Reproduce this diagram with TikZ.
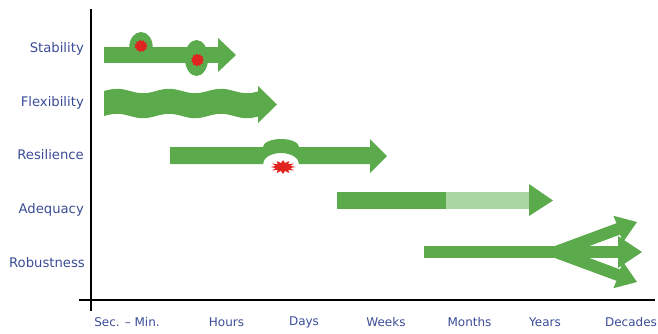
\documentclass[tikz,border=0pt]{standalone}
\usepackage{fontspec}
\setmainfont{DejaVu Sans}
\definecolor{grn}{HTML}{5BAA4B}
\definecolor{lgrn}{HTML}{A9D6A2}
\definecolor{txt}{HTML}{3A4C96}
\definecolor{splatred}{HTML}{E02420}
\newcommand\mysplat[6]{% cx cy rx ry samples spikeratio
  \fill[splatred] plot[domain=0:{360-360/#5},samples=#5]
    ({#1+#3*(1+#6*cos(#5*\x/2))*cos(\x)},{#2+#4*(1+#6*cos(#5*\x/2))*sin(\x)}) -- cycle;}
\begin{document}
\begin{tikzpicture}[x=1pt,y=-1pt,
  ylab/.style={anchor=east,text=txt,font=\fontsize{13.2}{15}\selectfont,inner sep=0pt},
  tick/.style={text=txt,font=\fontsize{12}{14}\selectfont,inner sep=0pt},
  axis/.style={line width=2.5pt,black}]
\useasboundingbox (0,0) rectangle (658,333);
% axes
\draw[axis] (91,9) -- (91,311);
\draw[axis] (79,300) -- (655,300);
% y labels
\node[ylab] (lstab) at (84,49) {Stability};
\node[ylab] (lflex) at (84,103) {Flexibility};
\node[ylab] (lres) at (84,155) {Resilience};
\node[ylab] (ladeq) at (84,210) {Adequacy};
\node[ylab] (lrob) at (85,263) {Robustness};
% x labels
\node[tick] (tsec) at (127,322) {Sec. – Min.};
\node[tick] (thours) at (226.5,322) {Hours};
\node[tick] (tdays) at (304,322) {Days};
\node[tick] (tweeks) at (386,322) {Weeks};
\node[tick] (tmonths) at (469.5,322) {Months};
\node[tick] (tyears) at (545,322) {Years};
\node[tick] (tdecades) at (631,322) {Decades};
% Stability
\fill[grn] (104,47) rectangle (219,63);
\fill[grn] (218,38) -- (236,55) -- (218,72) -- cycle;
\fill[grn] (141,47) ellipse[x radius=11.7pt,y radius=15pt];
\fill[grn] (196.5,58) ellipse[x radius=11.7pt,y radius=18pt];
\mysplat{141}{46}{6}{5.5}{22}{0.12}
\mysplat{197.5}{60}{5.8}{5.8}{22}{0.12}
% Flexibility
\fill[grn] plot[domain=0:154,samples=80] (104+\x,{91-2.2*sin(6.923*\x)})
  -- (258,86) -- (277,104.5) -- (258,123)
  -- plot[domain=154:0,samples=80] (104+\x,{116-2.2*sin(6.923*\x)}) -- cycle;
% Resilience
\fill[grn] (170,147) -- (263,147) arc[start angle=180,end angle=0,x radius=18pt,y radius=8pt]
  -- (370,147) -- (370,139) -- (387,156) -- (370,173) -- (370,164) -- (299,164)
  arc[start angle=0,end angle=180,x radius=18pt,y radius=11pt] -- (170,164) -- cycle;
\mysplat{283}{167}{10}{5.5}{24}{0.25}
% Adequacy
\fill[grn] (337,192) rectangle (446,209);
\fill[lgrn] (446,192) rectangle (529.5,209);
\fill[grn] (529,184) -- (553,200.5) -- (529,216) -- cycle;
% Robustness
\fill[grn] (424,246) rectangle (619,258);
\fill[grn] (618,236) -- (642,252) -- (618,268) -- cycle;
\fill[grn] (558.5,257.5) -- (620.0,234.6) -- (623.1,242.0) -- (637,222) -- (613.4,215.8) -- (616.5,223.2) -- (553.5,246.5) -- cycle;
\fill[grn] (558.5,246.5) -- (620.0,269.4) -- (623.1,262.0) -- (637,282) -- (613.4,288.2) -- (616.5,280.8) -- (553.5,257.5) -- cycle;
\end{tikzpicture}
\end{document}
